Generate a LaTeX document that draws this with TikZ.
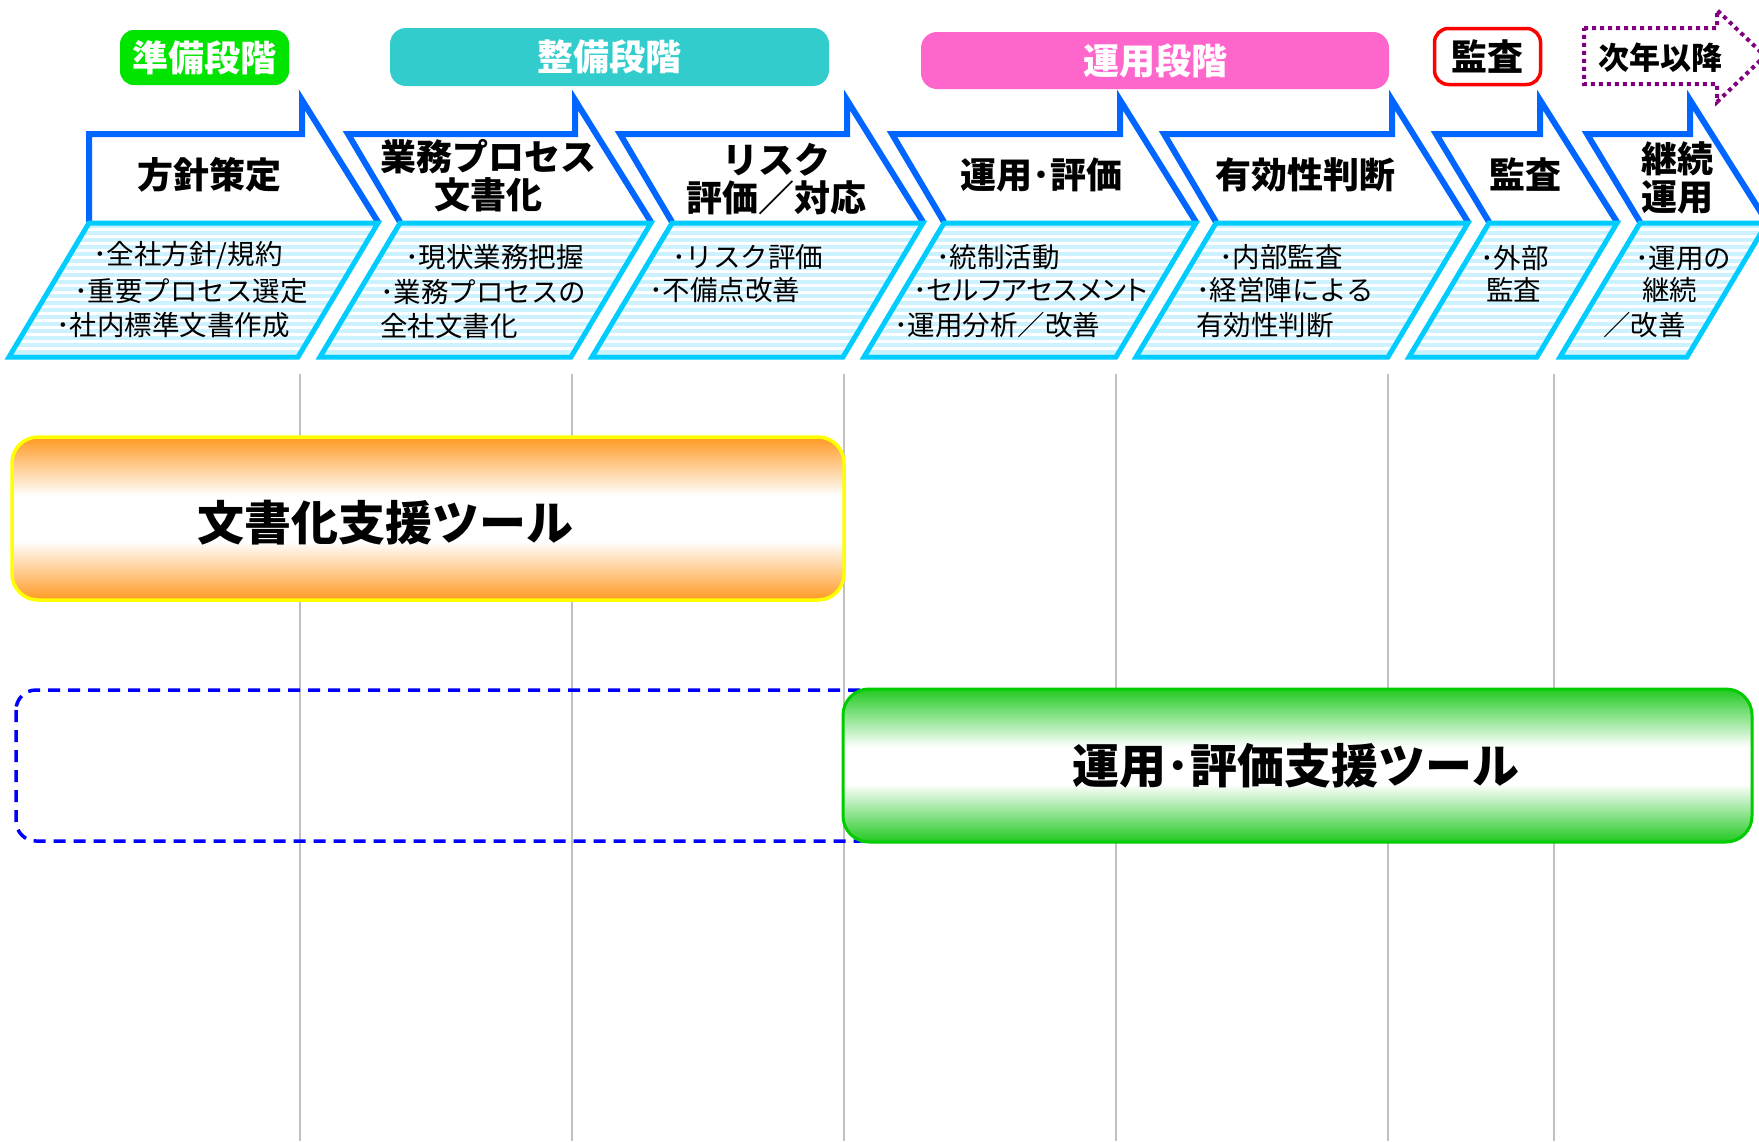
\documentclass[tikz,border=0pt]{standalone}
\usepackage{fontspec}
\setmainfont{Noto Sans CJK JP}
\definecolor{chevblue}{HTML}{0066FF}
\definecolor{paracyan}{HTML}{00CCFF}
\definecolor{stripe}{HTML}{CCF2FF}
\definecolor{lblgreen}{HTML}{00E400}
\definecolor{lblteal}{HTML}{33CCCC}
\definecolor{lblpink}{HTML}{FF66CC}
\definecolor{orng}{HTML}{FF9922}
\definecolor{grn}{HTML}{22C922}
\definecolor{barborder}{HTML}{00CC00}
\definecolor{baryellow}{HTML}{FFFF00}
\definecolor{dotpurple}{HTML}{800080}
\definecolor{vline}{HTML}{C0C0C0}
\definecolor{dashblue}{HTML}{0000FF}
\pgfdeclareverticalshading{orangebar}{100bp}{color(0bp)=(orng); color(25bp)=(orng); color(43bp)=(white); color(57bp)=(white); color(75bp)=(orng); color(100bp)=(orng)}
\pgfdeclareverticalshading{greenbar}{100bp}{color(0bp)=(grn); color(25bp)=(grn); color(44bp)=(white); color(56bp)=(white); color(75bp)=(grn); color(100bp)=(grn)}
\newcommand{\chevshape}[4]{%
  \path[fill=white] (#2,222) -- (#1,134) -- (#3,134) -- (#3,100) -- (#4,222) -- cycle;
  \draw[chevblue, line width=6pt, line join=miter] (#2,222) -- (#1,134) -- (#3,134) -- (#3,100) -- (#4,222);
  \begin{scope}
    \clip (#2,223) -- (#4,223) -- ({#4-80},357) -- ({#2-80},357) -- cycle;
    \fill[white] ({#2-100},220) rectangle ({#4+10},360);
    \foreach \yy in {226,233,...,356} \draw[stripe, line width=3.5pt] ({#2-90},\yy) -- ({#4+5},\yy);
  \end{scope}
  \draw[paracyan, line width=5pt, line join=miter] (#2,223) -- (#4,223) -- ({#4-80},357) -- ({#2-80},357) -- cycle;
}
\begin{document}
\begin{tikzpicture}[x=1pt,y=-1pt,
  lbl/.style={rectangle, rounded corners=14pt, text=white, inner sep=0pt, font=\bfseries\fontsize{36}{36}\selectfont},
  ttl/.style={inner sep=0pt, align=center, font=\bfseries\fontsize{36}{38}\selectfont},
  body/.style={inner sep=0pt, anchor=west, font=\fontsize{27.5}{30}\selectfont},
  bartext/.style={inner sep=0pt, font=\bfseries\fontsize{47}{47}\selectfont},
  vl/.style={draw=vline, line width=2pt}]
\useasboundingbox (0,0) rectangle (1759,1141);
\fill[white] (0,0) rectangle (1759,1141);
\clip (0,0) rectangle (1759,1141);
% vertical guide lines
\foreach \xx in {300,572,844,1116,1388,1554} \draw[vl] (\xx,374) -- (\xx,1141);
% phase labels
\node[lbl, fill=lblgreen, minimum width=169pt, minimum height=55pt] (ph1) at (204.5,57.5) {準備段階};
\node[lbl, fill=lblteal, minimum width=439pt, minimum height=58pt, rounded corners=16pt] (ph2) at (609.5,57) {整備段階};
\node[lbl, fill=lblpink, minimum width=468pt, minimum height=57pt, rounded corners=16pt] (ph3) at (1155,60.5) {運用段階};
\node[lbl, draw=red, line width=3.5pt, fill=white, text=black, minimum width=106pt, minimum height=56pt] (ph4) at (1487.5,56.5) {監査};
\draw[dotpurple, line width=4pt, dash pattern=on 4pt off 4pt, line join=miter] (1584,28) -- (1717,28) -- (1717,10) -- (1765,56) -- (1717,102) -- (1717,84) -- (1584,84) -- cycle;
\node[inner sep=0pt, font=\bfseries\fontsize{31}{31}\selectfont] (ph5) at (1660,58) {次年以降};
% chevrons
\chevshape{89}{89}{302}{378}
\chevshape{348}{400}{575}{651}
\chevshape{620}{672}{847}{923}
\chevshape{892}{944}{1120}{1196}
\chevshape{1164}{1216}{1392}{1468}
\chevshape{1436}{1489}{1540}{1617}
\chevshape{1587}{1640}{1690}{1767}
% chevron titles
\node[ttl] (c1) at (209,175) {方針策定};
\node[ttl] (c2) at (488,176) {業務プロセス\\文書化};
\node[ttl] (c3) at (776,179) {リスク\\評価／対応};
\node[ttl] (c4) at (1041,175) {運用･評価};
\node[ttl] (c5) at (1305,175) {有効性判断};
\node[ttl] (c6) at (1525,175) {監査};
\node[ttl] (c7) at (1677,178) {継続\\運用};
% body texts
\node[body] (b11) at (93,255) {･全社方針/規約};
\node[body] (b12) at (74,291) {･重要プロセス選定};
\node[body] (b13) at (56,325) {･社内標準文書作成};
\node[body] (b21) at (405,257) {･現状業務把握};
\node[body] (b22) at (380,292) {･業務プロセスの};
\node[body] (b23) at (380,326) {全社文書化};
\node[body] (b31) at (672,257) {･リスク評価};
\node[body] (b32) at (649,290) {･不備点改善};
\node[body] (b41) at (936,257) {･統制活動};
\node[body, font=\fontsize{27.5}{30}\selectfont\addfontfeature{RawFeature=+palt}] (b42) at (913,290) {･セルフアセスメント};
\node[body] (b43) at (894,325) {･運用分析／改善};
\node[body] (b51) at (1219,257) {･内部監査};
\node[body] (b52) at (1196,290) {･経営陣による};
\node[body] (b53) at (1196,325) {有効性判断};
\node[body] (b61) at (1480,258) {･外部};
\node[body] (b62) at (1486,290) {監査};
\node[body] (b71) at (1635,258) {･運用の};
\node[body] (b72) at (1642,290) {継続};
\node[body] (b73) at (1603,325) {／改善};
% tool bars
\node[draw=baryellow, line width=3.5pt, rounded corners=26pt, shade, shading=orangebar, minimum width=832pt, minimum height=163pt, inner sep=0pt] (docbar) at (428,518.5) {};
\node[bartext] (doctext) at (385,523) {文書化支援ツール};
\draw[dashblue, line width=3.5pt, dash pattern=on 12pt off 8pt, rounded corners=20pt] (16,690) rectangle (880,841);
\node[draw=barborder, line width=3pt, rounded corners=26pt, shade, shading=greenbar, minimum width=909pt, minimum height=153pt, inner sep=0pt] (opbar) at (1297.5,765.5) {};
\node[bartext] (optext) at (1296,766) {運用･評価支援ツール};
\end{tikzpicture}
\end{document}
